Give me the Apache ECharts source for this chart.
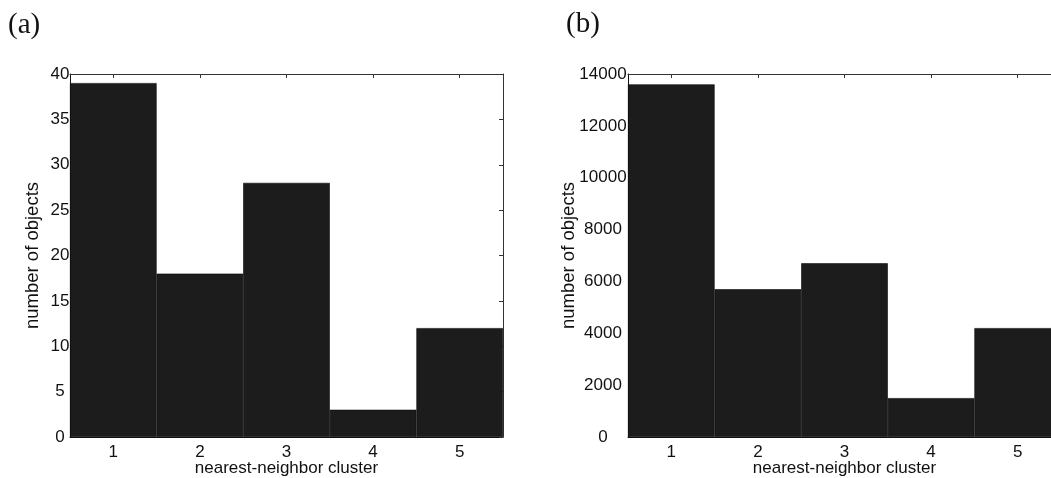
<!DOCTYPE html>
<html>
<head>
<meta charset="utf-8">
<script src="https://cdn.jsdelivr.net/npm/echarts@6/dist/echarts.min.js"></script>
<style>
html,body{margin:0;padding:0;background:#fff;}
#chart{width:1051px;height:478px;}
</style>
</head>
<body>
<div id="chart"></div>
<script>
// ---- data ----
const categories = ['1', '2', '3', '4', '5'];
const countsA = [39, 18, 28, 3, 12];
const countsB = [13600, 5700, 6700, 1500, 4200];
const yMaxA = 40, yStepA = 5;
const yMaxB = 14000, yStepB = 2000;
const panelTitles = ['(a)', '(b)'];
const xName = 'nearest-neighbor cluster';
const yName = 'number of objects';

// ---- styling ----
const FONT = 'Liberation Sans, Arial, Helvetica, sans-serif';
const TXT = '#111';
const BAR = '#1c1c1c';
const grids = [
  { left: 70, top: 74, width: 433, height: 363, outerBoundsMode: 'none', containLabel: false },
  { left: 628, top: 74, width: 433, height: 363, outerBoundsMode: 'none', containLabel: false }
];

function xAxes(g) {
  return [
    {
      gridIndex: g, type: 'category', data: categories, position: 'bottom',
      axisLine: { show: true, onZero: false, lineStyle: { color: '#111', width: 1 } },
      axisTick: { show: false },
      axisLabel: { fontSize: 17, color: TXT, fontFamily: FONT, margin: 7 },
      name: xName, nameLocation: 'middle', nameGap: 23, nameMoveOverlap: false,
      nameTextStyle: { fontSize: 17, color: TXT, fontFamily: FONT }
    },
    {
      gridIndex: g, type: 'category', data: categories, position: 'top',
      axisLine: { show: true, onZero: false, lineStyle: { color: '#333', width: 1 } },
      axisTick: { show: true, inside: true, alignWithLabel: true, length: 4, lineStyle: { color: '#333' } },
      axisLabel: { show: false }
    }
  ];
}
function yAxes(g, max, step, labelMargin, nameGap) {
  return [
    {
      gridIndex: g, type: 'value', min: 0, max: max, interval: step, position: 'left',
      axisLine: { show: true, onZero: false, lineStyle: { color: '#111', width: 1 } },
      axisTick: { show: false },
      splitLine: { show: false },
      axisLabel: { fontSize: 17, color: TXT, fontFamily: FONT, align: 'center', margin: labelMargin,
        formatter: function (v) { return String(v); } },
      name: yName, nameLocation: 'middle', nameGap: nameGap, nameMoveOverlap: false,
      nameTextStyle: { fontSize: 18.5, color: TXT, fontFamily: FONT }
    },
    {
      gridIndex: g, type: 'value', min: 0, max: max, interval: step, position: 'right',
      axisLine: { show: true, onZero: false, lineStyle: { color: '#333', width: 1 } },
      axisTick: { show: true, inside: true, length: 4, lineStyle: { color: '#333' } },
      splitLine: { show: false },
      axisLabel: { show: false }
    }
  ];
}

const option = {
  backgroundColor: '#fff',
  animation: false,
  title: [
    { text: panelTitles[0], left: 3, top: 6, textStyle: { fontFamily: 'Liberation Serif, Times New Roman, serif', fontWeight: 'normal', fontSize: 29, color: TXT } },
    { text: panelTitles[1], left: 561, top: 5, textStyle: { fontFamily: 'Liberation Serif, Times New Roman, serif', fontWeight: 'normal', fontSize: 29, color: TXT } }
  ],
  grid: grids,
  xAxis: [].concat(xAxes(0), xAxes(1)),
  yAxis: [].concat(yAxes(0, yMaxA, yStepA, 10, 28), yAxes(1, yMaxB, yStepB, 25, 50)),
  series: [
    {
      type: 'bar', xAxisIndex: 0, yAxisIndex: 0, data: countsA,
      barCategoryGap: '0%',
      itemStyle: { color: BAR, borderColor: '#0a0a0a', borderWidth: 0.6 }
    },
    {
      type: 'bar', xAxisIndex: 2, yAxisIndex: 2, data: countsB,
      barCategoryGap: '0%',
      itemStyle: { color: BAR, borderColor: '#0a0a0a', borderWidth: 0.6 }
    }
  ]
};

const chart = echarts.init(document.getElementById('chart'), null, { renderer: 'canvas' });
chart.setOption(option);
</script>
</body>
</html>
